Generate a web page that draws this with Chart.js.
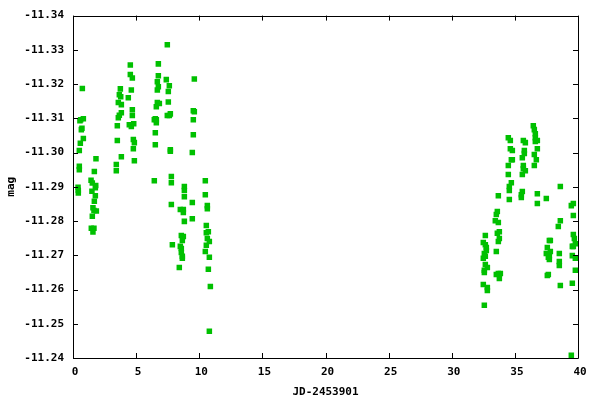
<!DOCTYPE html>
<html>
<head>
<meta charset="utf-8">
<script src="https://cdn.jsdelivr.net/npm/chart.js@4/dist/chart.umd.min.js"></script>
<style>
html,body{margin:0;padding:0;background:#fff;}
#wrap{width:600px;height:400px;position:relative;}
</style>
</head>
<body>
<div id="wrap"><canvas id="c" width="600" height="400"></canvas></div>
<script>
// Observing run 1 (JD-2453901 ~0-11)
const run1Jd = [
0.74,0.61,0.82,0.55,0.71,0.66,0.82,0.58,0.50,0.50,0.50,1.82,1.69,0.40,0.42,0.42,1.43,1.53,1.80,1.77,1.50,1.77,1.69,1.58,1.66,1.85,1.53,1.45,1.66,1.58,
4.54,4.54,4.70,3.75,4.62,3.67,3.78,4.38,3.59,3.83,4.70,3.83,3.67,3.59,4.70,3.51,4.46,4.62,4.81,3.51,4.78,4.86,4.78,3.83,4.86,3.43,3.43,
7.47,6.76,6.76,6.68,6.76,6.68,7.39,7.63,7.55,9.61,6.68,6.84,6.60,7.55,9.53,9.61,7.71,7.47,7.63,6.52,6.60,6.44,6.60,9.53,6.52,9.53,6.52,7.71,7.71,9.45,
6.44,7.79,7.79,10.48,8.82,8.82,10.48,8.82,9.45,7.79,10.64,10.64,8.50,8.74,8.74,8.82,9.45,10.56,8.58,8.74,8.66,10.72,10.56,10.64,10.80,10.56,7.87,8.50,8.58,8.58,
8.66,8.66,10.48,10.80,8.42,10.72,10.88,10.80
];
const run1Mag = [
-11.3187,-11.3096,-11.3099,-11.3093,-11.3071,-11.3067,-11.3041,-11.3027,-11.3006,-11.2960,-11.2950,-11.2982,-11.2945,-11.2899,-11.2890,-11.2882,-11.2919,-11.2911,-11.2904,-11.2897,-11.2887,-11.2874,-11.2858,-11.2839,-11.2831,-11.2829,-11.2814,-11.2779,-11.2779,-11.2768,
-11.3256,-11.3228,-11.3218,-11.3186,-11.3183,-11.3169,-11.3163,-11.3160,-11.3146,-11.3140,-11.3125,-11.3116,-11.3109,-11.3102,-11.3108,-11.3078,-11.3081,-11.3076,-11.3084,-11.3035,-11.3038,-11.3029,-11.3011,-11.2988,-11.2976,-11.2965,-11.2947,
-11.3315,-11.3259,-11.3224,-11.3207,-11.3192,-11.3183,-11.3213,-11.3195,-11.3178,-11.3215,-11.3146,-11.3143,-11.3134,-11.3148,-11.3122,-11.3119,-11.3113,-11.3108,-11.3108,-11.3099,-11.3096,-11.3096,-11.3087,-11.3096,-11.3058,-11.3052,-11.3023,-11.3008,-11.3004,-11.3000,
-11.2918,-11.2930,-11.2912,-11.2918,-11.2901,-11.2889,-11.2877,-11.2871,-11.2854,-11.2848,-11.2845,-11.2836,-11.2834,-11.2834,-11.2825,-11.2799,-11.2807,-11.2787,-11.2758,-11.2755,-11.2743,-11.2769,-11.2766,-11.2749,-11.2740,-11.2729,-11.2731,-11.2726,-11.2720,-11.2708,
-11.2697,-11.2691,-11.2711,-11.2694,-11.2664,-11.2659,-11.2609,-11.2478
];
// Observing run 2 (JD-2453901 ~32-40)
const run2Jd = [
33.69,33.61,33.53,33.45,33.69,33.77,33.61,33.77,33.69,32.66,32.50,32.66,32.74,32.74,32.58,32.66,32.50,33.53,32.66,32.82,32.58,32.58,33.69,33.85,33.77,33.53,32.50,32.82,32.82,32.58,
34.48,34.64,34.64,34.80,34.72,34.80,34.48,34.48,34.72,34.56,34.56,34.56,
35.67,35.83,35.75,35.75,35.59,35.67,35.67,35.83,35.59,35.59,35.51,35.51,
36.46,36.54,36.62,36.62,36.78,36.62,36.78,36.54,36.70,36.54,36.78,36.78,
38.60,37.49,39.47,39.63,39.63,38.60,38.44,39.63,39.71,39.79,39.63,39.55,37.81,37.73,37.57,37.81,37.49,37.73,37.65,37.73,38.52,39.55,39.79,38.52,38.52,39.79,37.65,37.57,38.60,39.55,
39.47
];
const run2Mag = [
-11.2874,-11.2828,-11.2819,-11.2801,-11.2796,-11.2769,-11.2764,-11.2749,-11.2740,-11.2758,-11.2737,-11.2731,-11.2723,-11.2714,-11.2705,-11.2697,-11.2691,-11.2711,-11.2673,-11.2664,-11.2656,-11.2650,-11.2647,-11.2647,-11.2632,-11.2644,-11.2615,-11.2606,-11.2597,-11.2554,
-11.3043,-11.3035,-11.3011,-11.3006,-11.2979,-11.2979,-11.2962,-11.2936,-11.2912,-11.2901,-11.2889,-11.2863,
-11.3035,-11.3029,-11.3006,-11.2997,-11.2985,-11.2962,-11.2953,-11.2947,-11.2936,-11.2886,-11.2877,-11.2869,
-11.3078,-11.3067,-11.3055,-11.3043,-11.3035,-11.3032,-11.3011,-11.2994,-11.2979,-11.2962,-11.2880,-11.2851,
-11.2901,-11.2866,-11.2845,-11.2851,-11.2816,-11.2801,-11.2784,-11.2761,-11.2749,-11.2734,-11.2726,-11.2726,-11.2743,-11.2743,-11.2723,-11.2711,-11.2705,-11.2699,-11.2694,-11.2688,-11.2705,-11.2699,-11.2691,-11.2682,-11.2670,-11.2656,-11.2644,-11.2641,-11.2612,-11.2618,
-11.2408
];
const xTicks = [0,5,10,15,20,25,30,35,40];
const yTicks = [-11.34,-11.33,-11.32,-11.31,-11.30,-11.29,-11.28,-11.27,-11.26,-11.25,-11.24];
const xTitle = 'JD-2453901';
const yTitle = 'mag';

const pts = [];
run1Jd.forEach((x,i)=>pts.push({x:x,y:run1Mag[i]}));
run2Jd.forEach((x,i)=>pts.push({x:x,y:run2Mag[i]}));

const FONT = {family:'"DejaVu Sans Mono", monospace', size:11, weight:'bold'};

const framePlugin = {
  id:'frame',
  afterDatasetsDraw(chart){
    const {ctx, chartArea:a, scales:{x,y}} = chart;
    ctx.save();
    ctx.strokeStyle = '#000';
    ctx.lineWidth = 1;
    ctx.beginPath();
    ctx.rect(Math.round(a.left)+0.5, Math.round(a.top)+0.5, Math.round(a.right-a.left), Math.round(a.bottom-a.top));
    const L = 5;
    x.ticks.forEach(t=>{
      const px = Math.round(x.getPixelForValue(t.value))+0.5;
      ctx.moveTo(px, a.bottom); ctx.lineTo(px, a.bottom-L);
      ctx.moveTo(px, a.top); ctx.lineTo(px, a.top+L);
    });
    y.ticks.forEach(t=>{
      const py = Math.round(y.getPixelForValue(t.value))+0.5;
      ctx.moveTo(a.left, py); ctx.lineTo(a.left+L, py);
      ctx.moveTo(a.right, py); ctx.lineTo(a.right-L, py);
    });
    ctx.stroke();
    ctx.restore();
  }
};

new Chart(document.getElementById('c'), {
  type:'scatter',
  data:{datasets:[{
    data:pts,
    pointStyle:'rect',
    pointRadius:3.9,
    pointHoverRadius:3.9,
    backgroundColor:'#00c000',
    borderWidth:0
  }]},
  options:{
    responsive:false,
    animation:false,
    events:[],
    layout:{padding:{left:0,right:22,top:15,bottom:0}},
    plugins:{legend:{display:false},tooltip:{enabled:false}},
    scales:{
      x:{
        type:'linear', min:0, max:40,
        afterBuildTicks(s){ s.ticks = xTicks.map(v=>({value:v})); },
        afterFit(s){ s.height = 42; },
        grid:{display:false, drawTicks:false},
        border:{display:false},
        ticks:{color:'#000', font:FONT, padding:8, maxRotation:0, autoSkip:false, labelOffset:2,
          callback:(v)=>String(v)},
        title:{display:true, text:xTitle, color:'#000', font:FONT, padding:{top:0,bottom:1}}
      },
      y:{
        type:'linear', min:-11.34, max:-11.24, reverse:true,
        afterBuildTicks(s){ s.ticks = yTicks.map(v=>({value:v})); },
        afterFit(s){ s.width = 73; },
        grid:{display:false, drawTicks:false},
        border:{display:false},
        ticks:{color:'#000', font:FONT, padding:9, autoSkip:false,
          callback:(v)=>Number(v).toFixed(2)},
        title:{display:true, text:yTitle, color:'#000', font:FONT, padding:{top:5,bottom:0}}
      }
    }
  },
  plugins:[framePlugin]
});
</script>
</body>
</html>
